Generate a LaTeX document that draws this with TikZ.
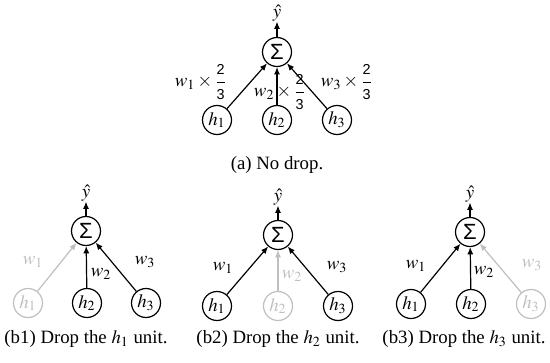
\documentclass[tikz,border=0pt]{standalone}
\usepackage{amsmath}
\usepackage{mathptmx}
\usepackage{fontspec}
\setmainfont{Liberation Serif}
\setsansfont{Liberation Sans}
\usetikzlibrary{positioning,arrows.meta}
\newcommand{\twothirds}{\dfrac{\textsf{\fontsize{7.2}{8}\selectfont 2}}{\textsf{\fontsize{7.2}{8}\selectfont 3}}}

\begin{document}
\begin{tikzpicture}[x=0.5pt, y=-0.5pt,
  every node/.style={font=\fontsize{9.4}{11}\selectfont},
  unit/.style={draw, circle, minimum size=14.5pt, inner sep=0pt, line width=0.6pt},
  sigma/.style={unit, font=\fontsize{11}{12}\sffamily},
  faded/.style={draw=black!25, text=black!25},
  edge/.style={-{Latex[length=3.6pt, width=3pt]}, line width=0.6pt},
  fadededge/.style={edge, black!25}]
\useasboundingbox (0,0) rectangle (550,363);
% (a) no drop
\node[sigma] (sumA) at (277,52) {Σ};
\node[inner sep=0pt] (hatA) at (277,13) {$\hat{y}$};
\node[unit] (hA1) at (217,120) {$h_1$};
\node[unit] (hA2) at (277,120) {$h_2$};
\node[unit] (hA3) at (337,120) {$h_3$};
\draw[edge] (sumA) -- (hatA);
\draw[edge] (hA1) -- (sumA);
\draw[edge] (hA2) -- (sumA);
\draw[edge] (hA3) -- (sumA);
\node (wA1) at (201,82) {$w_1\,{\times}\,\twothirds$};
\node (wA2) at (280,92) {$w_2\,{\times}\,\twothirds$};
\node (wA3) at (347,82) {$w_3\,{\times}\,\twothirds$};
\node (capA) at (277,165) {(a) No drop.};
% (b1) drop h1
\node[sigma] (sumB) at (86,231) {Σ};
\node[inner sep=0pt] (hatB) at (86,193) {$\hat{y}$};
\node[unit, faded] (hB1) at (28,303) {$h_1$};
\node[unit] (hB2) at (87,303) {$h_2$};
\node[unit] (hB3) at (146,303) {$h_3$};
\draw[edge] (sumB) -- (hatB);
\draw[fadededge] (hB1) -- (sumB);
\draw[edge] (hB2) -- (sumB);
\draw[edge] (hB3) -- (sumB);
\node[text=black!25] (wB1) at (33,262) {$w_1$};
\node (wB2) at (101,274) {$w_2$};
\node (wB3) at (145,262) {$w_3$};
\node (capB) at (86,339) {(b1) Drop the $h_1$ unit.};
% (b2) drop h2
\node[sigma] (sumC) at (278,235) {Σ};
\node[inner sep=0pt] (hatC) at (278,197) {$\hat{y}$};
\node[unit] (hC1) at (217,306) {$h_1$};
\node[unit, faded] (hC2) at (278,306) {$h_2$};
\node[unit] (hC3) at (338,306) {$h_3$};
\draw[edge] (sumC) -- (hatC);
\draw[edge] (hC1) -- (sumC);
\draw[fadededge] (hC2) -- (sumC);
\draw[edge] (hC3) -- (sumC);
\node (wC1) at (223,268) {$w_1$};
\node[text=black!25] (wC2) at (292,276) {$w_2$};
\node (wC3) at (337,267) {$w_3$};
\node (capC) at (278,339) {(b2) Drop the $h_2$ unit.};
% (b3) drop h3
\node[sigma] (sumD) at (470,232) {Σ};
\node[inner sep=0pt] (hatD) at (470,194) {$\hat{y}$};
\node[unit] (hD1) at (411,304) {$h_1$};
\node[unit] (hD2) at (471,304) {$h_2$};
\node[unit, faded] (hD3) at (531,304) {$h_3$};
\draw[edge] (sumD) -- (hatD);
\draw[edge] (hD1) -- (sumD);
\draw[edge] (hD2) -- (sumD);
\draw[fadededge] (hD3) -- (sumD);
\node (wD1) at (416,266) {$w_1$};
\node (wD2) at (484,272) {$w_2$};
\node[text=black!25] (wD3) at (532,265) {$w_3$};
\node (capD) at (464,339) {(b3) Drop the $h_3$ unit.};
\end{tikzpicture}
\end{document}
